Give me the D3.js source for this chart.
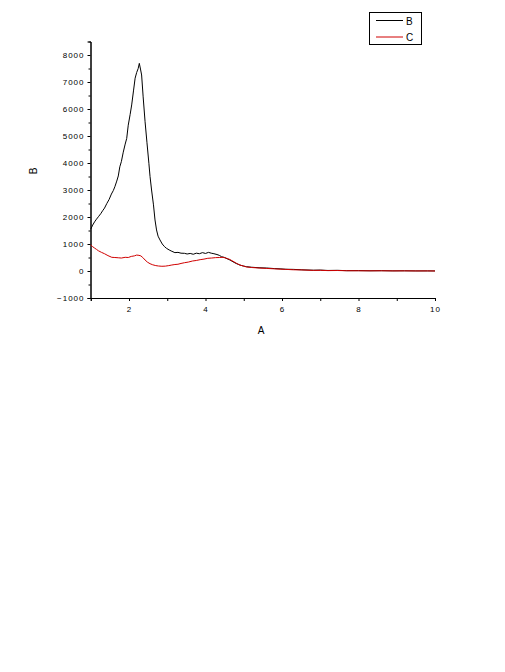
<!DOCTYPE html>
<html>
<head>
<meta charset="utf-8">
<script src="https://cdn.jsdelivr.net/npm/d3@7"></script>
<style>
  body { margin: 0; background: #fff; }
  svg { display: block; }
  text { font-family: "Liberation Sans", Arial, sans-serif; fill: #000; }
</style>
</head>
<body>
<svg id="chart" width="505" height="672"></svg>
<script>
// series B (black)
var xB = [1.0, 1.05, 1.1, 1.15, 1.2, 1.26, 1.31, 1.36, 1.42, 1.48, 1.54, 1.59, 1.63, 1.68, 1.72, 1.76, 1.8, 1.85, 1.9, 1.94, 1.98, 2.03, 2.07, 2.12, 2.16, 2.2, 2.24, 2.27, 2.3, 2.33, 2.37, 2.42, 2.47, 2.52, 2.55, 2.59, 2.64, 2.68, 2.72, 2.76, 2.81, 2.87, 2.93, 2.98, 3.05, 3.12, 3.2, 3.28, 3.36, 3.45, 3.52, 3.6, 3.68, 3.76, 3.84, 3.92, 4.0, 4.08, 4.15, 4.22, 4.3, 4.36, 4.42, 4.5, 4.57, 4.64, 4.72, 4.8, 4.9, 5.0, 5.07, 5.2, 5.4, 5.6, 5.8, 5.95, 6.1, 6.3, 6.5, 6.82, 7.0, 7.2, 7.45, 7.69, 8.0, 8.3, 8.6, 8.9, 9.2, 9.5, 9.8, 10.0];
var yB = [1550, 1700, 1820, 1920, 2010, 2120, 2230, 2330, 2500, 2650, 2850, 2980, 3120, 3330, 3520, 3860, 4050, 4400, 4700, 4910, 5400, 5800, 6150, 6700, 7140, 7350, 7500, 7690, 7480, 7260, 6450, 5530, 4750, 3990, 3500, 3000, 2450, 1890, 1520, 1290, 1150, 1000, 900, 840, 780, 730, 680, 690, 660, 655, 630, 650, 620, 660, 640, 680, 650, 690, 660, 640, 610, 580, 530, 500, 450, 407, 340, 280, 220, 180, 160, 140, 120, 110, 90, 80, 65, 60, 45, 30, 35, 20, 25, 12, 15, 8, 12, 5, 8, 3, 4, 2];

// series C (red)
var xC = [1.0, 1.05, 1.1, 1.15, 1.2, 1.28, 1.36, 1.45, 1.55, 1.63, 1.72, 1.8, 1.9, 1.98, 2.06, 2.14, 2.2, 2.26, 2.31, 2.36, 2.42, 2.48, 2.55, 2.62, 2.7, 2.77, 2.86, 2.95, 3.04, 3.12, 3.2, 3.28, 3.36, 3.45, 3.55, 3.66, 3.76, 3.86, 3.96, 4.06, 4.16, 4.26, 4.36, 4.46, 4.55, 4.63, 4.72, 4.81, 4.9, 5.0, 5.07, 5.2, 5.4, 5.6, 5.8, 5.95, 6.1, 6.3, 6.5, 6.82, 7.0, 7.2, 7.45, 7.69, 8.0, 8.3, 8.6, 8.9, 9.2, 9.5, 9.8, 10.0];
var yC = [963, 900, 850, 800, 750, 690, 640, 570, 507, 500, 490, 480, 507, 500, 540, 560, 590, 580, 560, 500, 407, 330, 270, 230, 200, 185, 175, 180, 200, 222, 240, 250, 280, 307, 330, 370, 390, 420, 440, 470, 480, 495, 500, 507, 470, 430, 360, 285, 220, 180, 150, 130, 110, 95, 80, 68, 60, 45, 40, 22, 25, 15, 18, 10, 8, 6, 8, 4, 5, 2, 3, 1];

var seriesNames = ["B", "C"];
var xTicks = [2, 4, 6, 8, 10];
var yTicks = [-1000, 0, 1000, 2000, 3000, 4000, 5000, 6000, 7000, 8000];

var svg = d3.select("#chart");

var x = d3.scaleLinear().domain([1, 10]).range([90.75, 435]);
var y = d3.scaleLinear().domain([-1000, 8500]).range([298, 41.5]);

// axes (ticks outward, minor ticks halfway)
var xAxis = d3.axisBottom(x).tickValues(xTicks).tickSize(3).tickPadding(5).tickFormat(d3.format("d"));
var xMinor = d3.axisBottom(x).tickValues([3, 5, 7, 9]).tickSize(3).tickFormat("");
var yAxis = d3.axisLeft(y).tickValues(yTicks).tickSize(3).tickPadding(3).tickFormat(d3.format("d"));
var yMinor = d3.axisLeft(y).tickValues(d3.range(-500, 8500, 1000)).tickSize(2).tickFormat("");

function styleAxis(g) {
  g.select(".domain").attr("stroke", "#000").attr("stroke-width", 1);
  g.selectAll("line").attr("stroke", "#000");
  g.selectAll("text").style("font-size", "8px").style("letter-spacing", "1px")
    .style("font-family", "'Liberation Sans', Arial, sans-serif");
}

svg.append("g").attr("transform", "translate(0,298)").call(xAxis).call(styleAxis);
svg.append("g").attr("transform", "translate(0,298)").call(xMinor).call(styleAxis);
svg.append("g").attr("transform", "translate(90.5,0)").call(yAxis).call(styleAxis);
svg.append("g").attr("transform", "translate(90.5,0)").call(yMinor).call(styleAxis);

// axis titles
svg.append("text").attr("x", 261).attr("y", 334).attr("text-anchor", "middle")
  .style("font-size", "10px").text("A");
svg.append("text").attr("transform", "translate(37,171) rotate(-90)").attr("text-anchor", "middle")
  .style("font-size", "10px").text("B");

var line = d3.line().x(function(d) { return x(d[0]); }).y(function(d) { return y(d[1]); });

var dataC = xC.map(function(v, i) { return [v, yC[i]]; });
var dataB = xB.map(function(v, i) { return [v, yB[i]]; });

svg.append("path").datum(dataB).attr("d", line)
  .attr("fill", "none").attr("stroke", "#000").attr("stroke-width", 1);
svg.append("path").datum(dataC).attr("d", line)
  .attr("fill", "none").attr("stroke", "#d00000").attr("stroke-width", 1);

// legend
var colors = ["#000", "#d00000"];
var legend = svg.append("g");
legend.append("rect").attr("x", 369.5).attr("y", 12.5).attr("width", 52).attr("height", 32)
  .attr("fill", "#fff").attr("stroke", "#000");
seriesNames.forEach(function(name, i) {
  var ly = 20.5 + i * 16.5;
  legend.append("line").attr("x1", 376).attr("x2", 403).attr("y1", ly).attr("y2", ly)
    .attr("stroke", colors[i]);
  legend.append("text").attr("x", 406).attr("y", ly + 4).style("font-size", "10px").text(name);
});
</script>
</body>
</html>
